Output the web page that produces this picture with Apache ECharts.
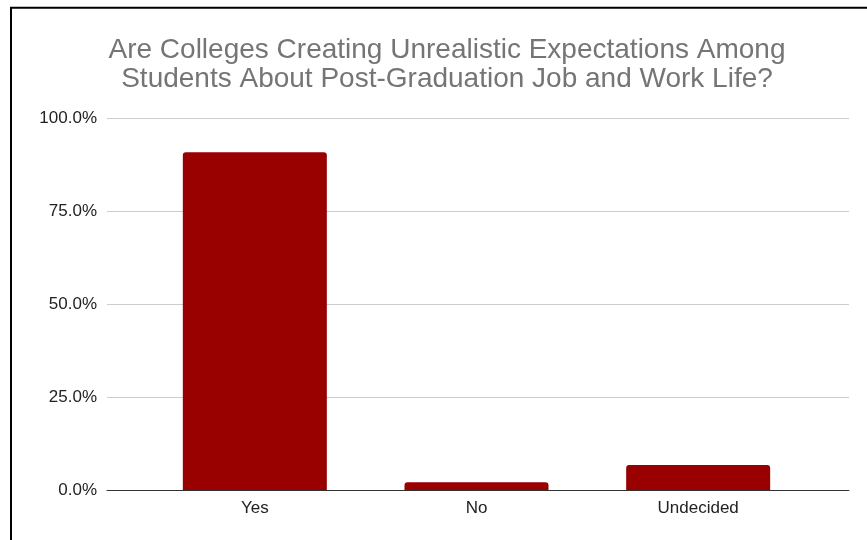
<!DOCTYPE html>
<html>
<head>
<meta charset="utf-8">
<script src="https://cdn.jsdelivr.net/npm/echarts@6/dist/echarts.min.js"></script>
<style>
  html, body { margin: 0; padding: 0; background: #fff; }
  #chart { width: 867px; height: 540px; }
</style>
</head>
<body>
<div id="chart"></div>
<script>
// Survey answers and their share of respondents (percent)
const categories = ['Yes', 'No', 'Undecided'];
const shares = [90.8, 2.1, 6.7];
const yTicks = [0, 25, 50, 75, 100];

const titleLines = [
  'Are Colleges Creating Unrealistic Expectations Among',
  'Students About Post-Graduation Job and Work Life?'
];

const FONT = '"Liberation Sans", Arial, Helvetica, sans-serif';

const chart = echarts.init(document.getElementById('chart'), null, { renderer: 'canvas' });

chart.setOption({
  animation: false,
  backgroundColor: '#ffffff',
  title: {
    text: titleLines.join('\n'),
    left: 442,
    top: 31,
    textAlign: 'center',
    textStyle: {
      fontFamily: FONT,
      fontSize: 28,
      fontWeight: 'normal',
      color: '#757575',
      lineHeight: 29
    }
  },
  graphic: [
    {
      type: 'rect',
      shape: { x: 11, y: 7.7, width: 900, height: 600 },
      style: { fill: 'none', stroke: '#000000', lineWidth: 2 },
      silent: true,
      z: 100
    }
  ],
  grid: [
    // frame with value gridlines and baseline
    { left: 107, right: 18, top: 118, bottom: 50 },
    // bar area
    { left: 144, right: 58, top: 118, bottom: 50 }
  ],
  xAxis: [
    {
      gridIndex: 0,
      type: 'value',
      min: 0,
      max: 1,
      z: 5,
      axisLine: { show: true, lineStyle: { color: '#333333', width: 1 } },
      axisTick: { show: false },
      axisLabel: { show: false },
      splitLine: { show: false }
    },
    {
      gridIndex: 1,
      type: 'category',
      data: categories,
      axisLine: { show: false },
      axisTick: { show: false },
      axisLabel: {
        fontFamily: FONT,
        fontSize: 17,
        color: '#222222',
        margin: 10
      }
    }
  ],
  yAxis: [
    {
      gridIndex: 0,
      type: 'value',
      min: 0,
      max: 100,
      interval: 25,
      axisLine: { show: false },
      axisTick: { show: false },
      axisLabel: {
        fontFamily: FONT,
        fontSize: 17,
        color: '#222222',
        margin: 10,
        formatter: v => yTicks.includes(v) ? v.toFixed(1) + '%' : ''
      },
      splitLine: { show: true, lineStyle: { color: '#cccccc', width: 1 } }
    },
    {
      gridIndex: 1,
      type: 'value',
      min: 0,
      max: 100,
      show: false
    }
  ],
  series: [
    {
      type: 'bar',
      xAxisIndex: 1,
      yAxisIndex: 1,
      data: shares,
      barWidth: 144,
      z: 3,
      itemStyle: { color: '#990000', borderRadius: [3, 3, 0, 0] }
    }
  ]
});
</script>
</body>
</html>
